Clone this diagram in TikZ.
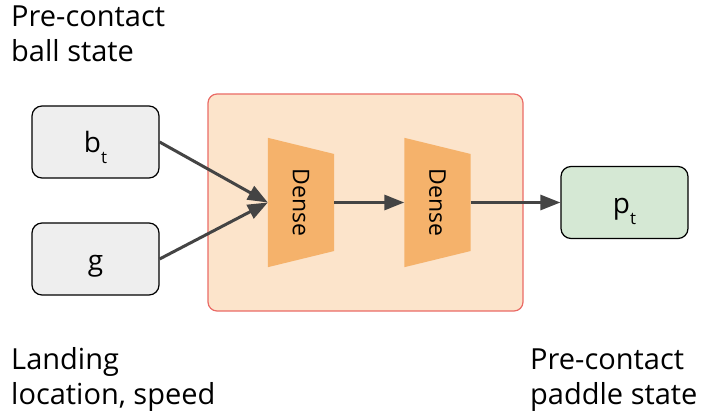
\documentclass[tikz,border=0pt]{standalone}
\usepackage{fontspec}
\setmainfont{Open Sans}
\usetikzlibrary{arrows.meta}
\definecolor{boxgray}{HTML}{EEEEEE}
\definecolor{boxgreen}{HTML}{D5E8D4}
\definecolor{contfill}{HTML}{FCE4CB}
\definecolor{contdraw}{HTML}{EA6B66}
\definecolor{densefill}{HTML}{F5B26B}
\definecolor{arrowcol}{HTML}{444444}
\newcommand{\subt}{\smash{\raisebox{-11pt}{\fontsize{17}{17}\selectfont t}}}
\tikzset{
  inbox/.style={draw=black, line width=1.2pt, rounded corners=10pt, minimum width=127pt, minimum height=72pt, inner sep=0pt, text height=22pt, text depth=0pt, font=\fontsize{28}{32}\selectfont},
  conn/.style={draw=arrowcol, line width=3pt, -{Triangle[length=20pt,width=15pt]}},
  lbl/.style={align=left, anchor=base west, inner sep=0pt, font=\fontsize{29}{35}\selectfont},
  densebox/.style={minimum width=66pt, minimum height=129pt, inner sep=0pt},
  densetext/.style={rotate=-90, font=\fontsize{23}{26}\selectfont}
}
\begin{document}
\begin{tikzpicture}[x=1pt,y=-1pt]
\useasboundingbox (0,0) rectangle (704,414);
% container
\node[draw=contdraw, fill=contfill, line width=1.2pt, rounded corners=9pt, minimum width=315pt, minimum height=217pt, inner sep=0pt] (cont) at (365.5,202.5) {};
% input boxes
\node[inbox, fill=boxgray] (b) at (95.5,142) {b\subt};
\node[inbox, fill=boxgray] (g) at (95.5,259) {g};
\node[inbox, fill=boxgreen] (p) at (624.5,202.5) {p\subt};
% dense layers
\node[densebox] (d1) at (301,202.5) {};
\node[densebox] (d2) at (437.5,202.5) {};
\fill[densefill] (d1.north west) -- (d1.north east |- 0,154) -- (d1.south east |- 0,251) -- (d1.south west) -- cycle;
\fill[densefill] (d2.north west) -- (d2.north east |- 0,154) -- (d2.south east |- 0,251) -- (d2.south west) -- cycle;
\node[densetext] (t1) at (d1.center) {Dense};
\node[densetext] (t2) at (d2.center) {Dense};
% connectors
\draw[conn] (b.east) -- (d1.west);
\draw[conn] (g.east) -- (d1.west);
\draw[conn] (d1.east) -- (d2.west);
\draw[conn] (d2.east) -- (p.west);
% labels
\node[lbl] (l1) at (11,62) {Pre-contact\\ball state};
\node[lbl] (l2) at (11,404) {Landing\\location, speed};
\node[lbl] (l3) at (530,404) {Pre-contact\\paddle state};
\end{tikzpicture}
\end{document}
